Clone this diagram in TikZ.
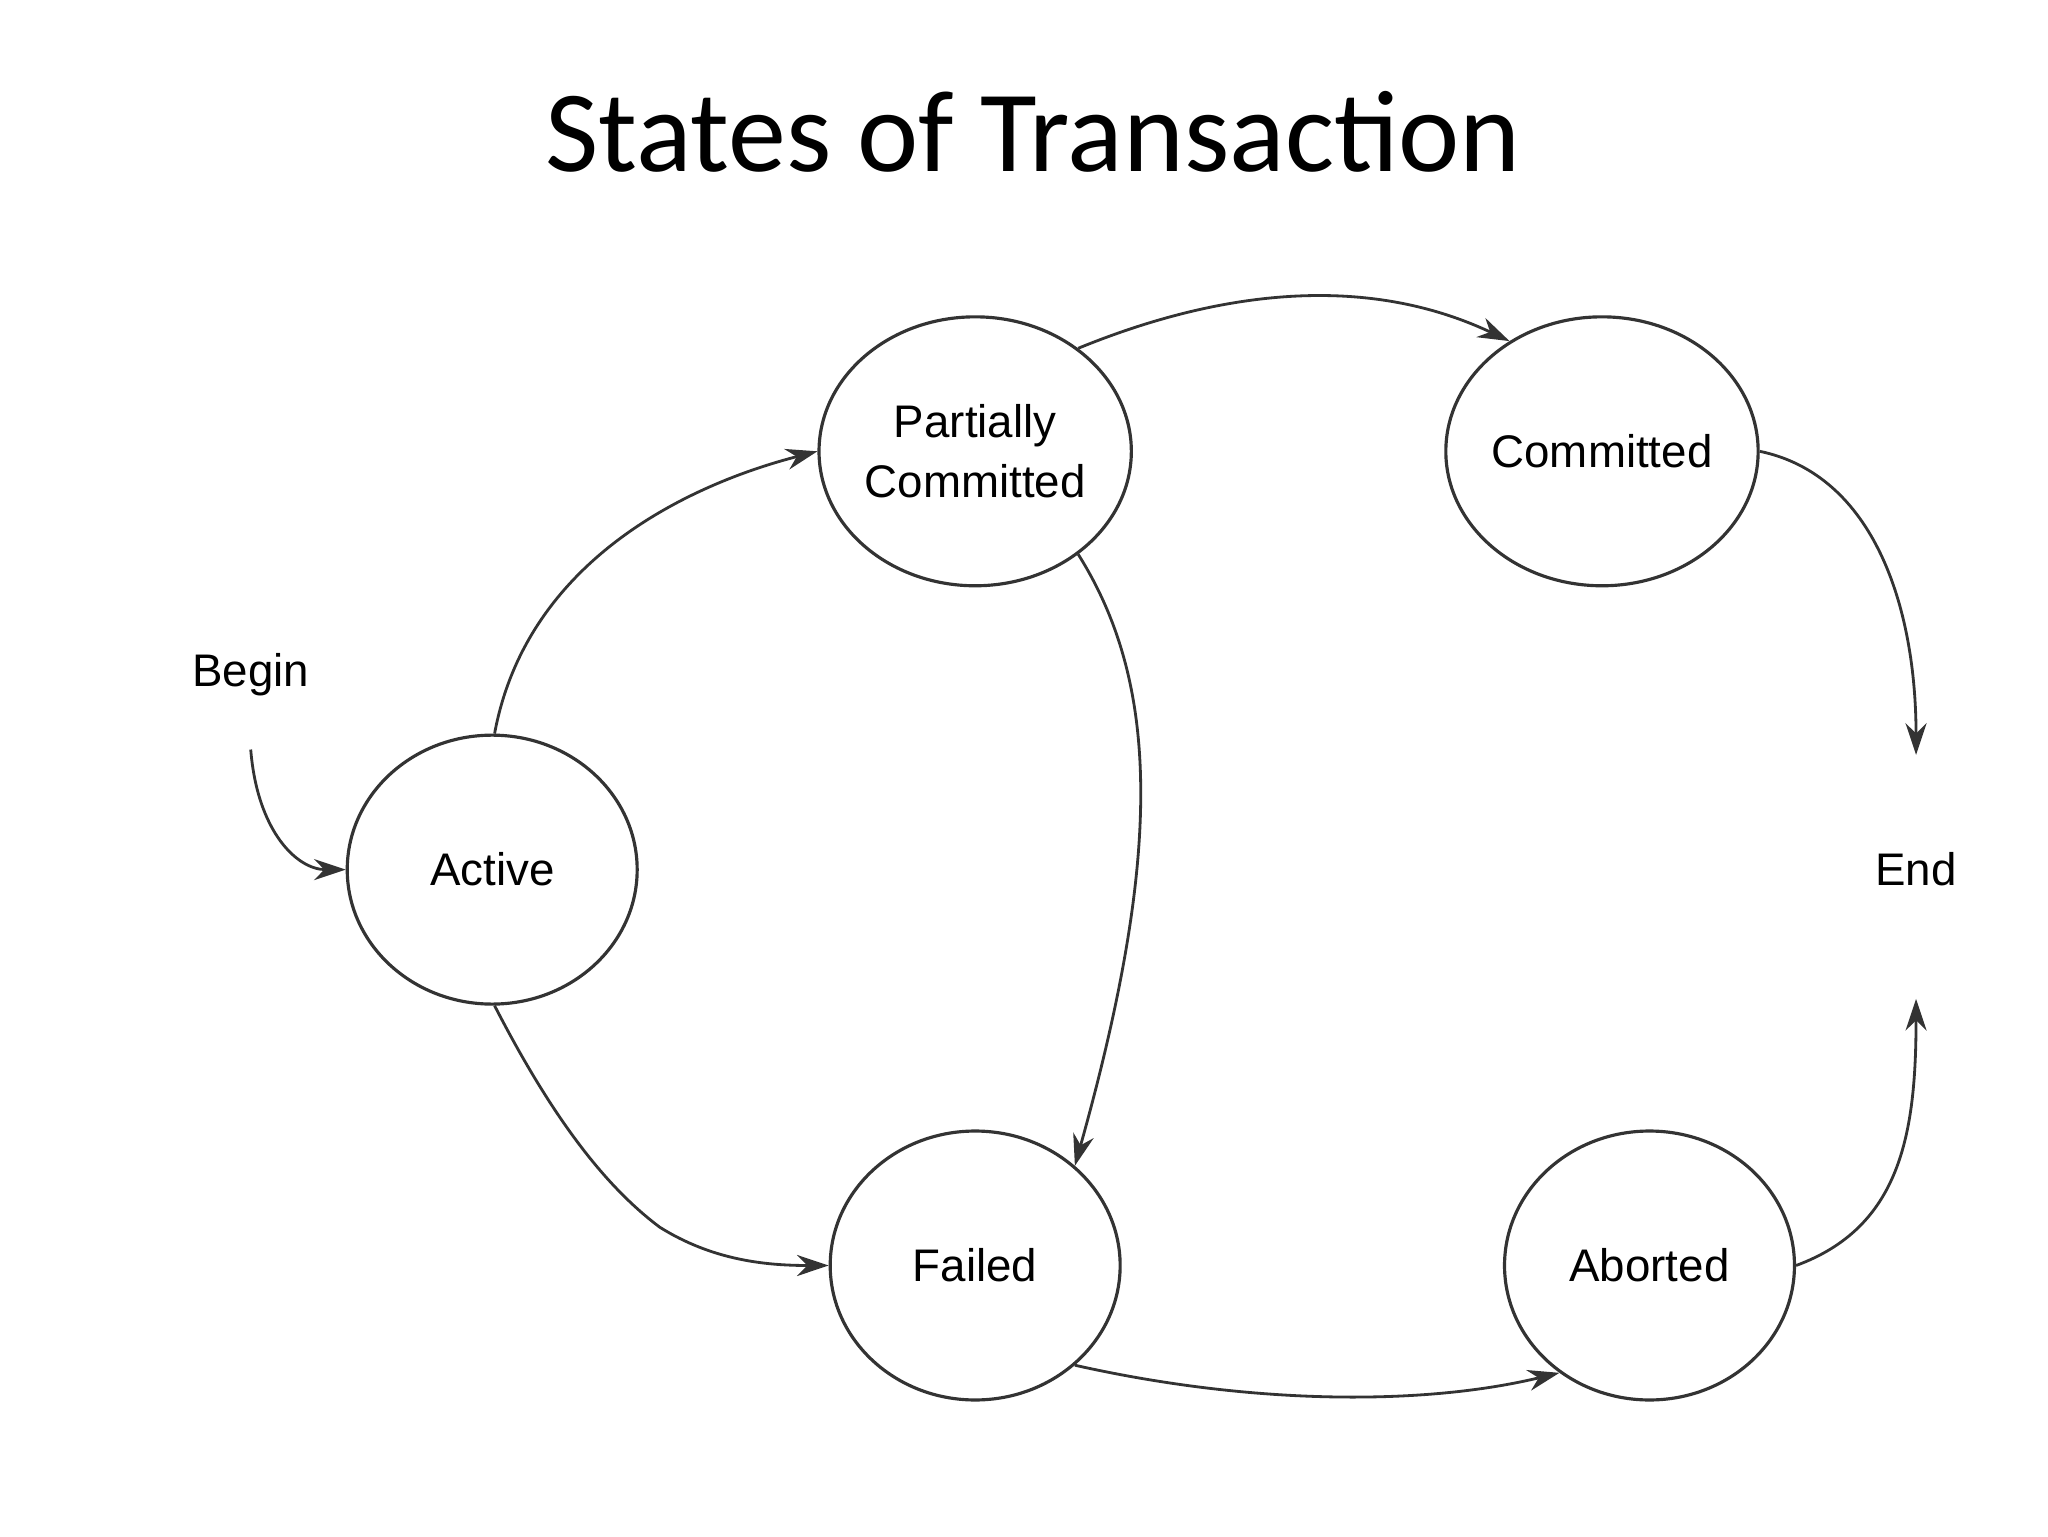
\documentclass[tikz,border=0pt]{standalone}
\usepackage{fontspec}
\setmainfont{Liberation Sans}
\newfontfamily\titlefont{Carlito}
\usetikzlibrary{shapes.geometric,arrows.meta}
\begin{document}
\begin{tikzpicture}[x=0.0132cm,y=-0.0132cm,
  st/.style={ellipse,draw=black!80,line width=0.9pt,minimum width=2.9cm,minimum height=2.69cm,align=center,font=\fontsize{13}{17}\selectfont,inner sep=0pt},
  lbl/.style={font=\fontsize{13}{17}\selectfont},
  arr/.style={draw=black!80,line width=0.8pt,-{Stealth[length=9pt,width=6pt]}}]
\useasboundingbox (0,0) rectangle (1552,1164);
\node[font=\titlefont\fontsize{33}{40}\selectfont] (title) at (783,100) {States of Transaction};
\node[st] (act) at (373,659) {Active};
\node[st] (pc) at (739,342) {Partially\\Committed};
\node[st] (com) at (1214,342) {Committed};
\node[st] (fail) at (739,959) {Failed};
\node[st] (abo) at (1250,959) {Aborted};
\node[lbl] (begin) at (190,511) {Begin};
\node[lbl] (end) at (1452,659) {End};
\coordinate (bs) at (190,568);
\coordinate (et) at (1452,572);
\coordinate (eb) at (1452,757);
\draw[arr] (bs) .. controls (195,630) and (225,659) .. (act.west);
\draw[arr] (act.89) .. controls (400,420) and (530,365) .. (pc.west);
\draw[arr] (act.271) .. controls (420,850) and (460,900) .. (500,930) .. controls (540,955) and (580,959) .. (fail.west);
\draw[arr] (pc.-45) .. controls (880,520) and (880,650) .. (fail.45);
\draw[arr] (pc.45) .. controls (900,230) and (1020,200) .. (com.130);
\draw[arr] (com.east) .. controls (1420,360) and (1452,460) .. (et);
\draw[arr] (fail.-45) .. controls (950,1065) and (1080,1065) .. (abo.-130);
\draw[arr] (abo.east) .. controls (1440,930) and (1452,860) .. (eb);
\end{tikzpicture}
\end{document}
